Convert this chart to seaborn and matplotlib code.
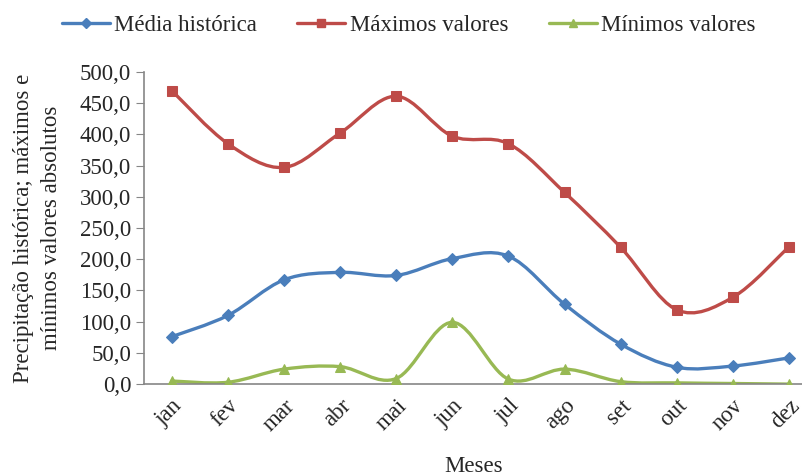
import matplotlib
matplotlib.use("Agg")
import matplotlib.pyplot as plt
import numpy as np
import seaborn as sns
from matplotlib.path import Path
from matplotlib.patches import PathPatch
from matplotlib.lines import Line2D
from matplotlib.ticker import FuncFormatter

# dados
meses = ['jan', 'fev', 'mar', 'abr', 'mai', 'jun', 'jul', 'ago', 'set', 'out', 'nov', 'dez']
media = [76, 110, 167, 179, 174, 201, 205, 128, 64, 27, 29, 42]
maximos = [470, 385, 347, 402, 461, 397, 385, 307, 219, 119, 139, 220]
minimos = [5, 3, 24, 28, 9, 99, 8, 24, 4, 2, 1, 0]

sns.set_style("white")
plt.rcParams['font.family'] = ['Liberation Serif', 'DejaVu Serif']
FS = 16.5


def smoothPath(ys):
    # curva suave estilo Excel (bezier tipo catmull-rom)
    xs = np.arange(len(ys), dtype=float)
    pts = np.column_stack([xs, np.asarray(ys, dtype=float)])
    ext = np.vstack([pts[0], pts, pts[-1]])
    verts = [pts[0]]
    codes = [Path.MOVETO]
    for i in range(len(pts) - 1):
        p0, p1, p2, p3 = ext[i], ext[i + 1], ext[i + 2], ext[i + 3]
        verts += [p1 + (p2 - p0) / 6, p2 - (p3 - p1) / 6, p2]
        codes += [Path.CURVE4] * 3
    return Path(verts, codes)


fig = plt.figure(figsize=(8.03, 4.76), dpi=100)
ax = fig.add_axes([0.179, 0.193, 0.821, 0.656])

series = [
    ('Média histórica', media, '#4A7EBB', 'D', 6),
    ('Máximos valores', maximos, '#BE4B48', 's', 7),
    ('Mínimos valores', minimos, '#98B954', '^', 7),
]

handles = []
for nome, vals, cor, mk, ms in series:
    ax.add_patch(PathPatch(smoothPath(vals), facecolor='none', edgecolor=cor,
                           lw=2.4, zorder=2, capstyle='round'))
    sns.lineplot(x=meses, y=vals, ax=ax, marker=mk, markersize=ms, color=cor,
                 linestyle='', markeredgecolor=cor, zorder=3, sort=False)
    handles.append(Line2D([], [], color=cor, lw=2.4, marker=mk, markersize=ms - 1,
                          markeredgecolor=cor, label=nome))

ax.set_ylim(0, 500)
ax.set_xlim(-0.5, 11.25)
ax.set_yticks(np.arange(0, 501, 50))
ax.yaxis.set_major_formatter(FuncFormatter(lambda v, p: f'{v:.1f}'.replace('.', ',')))

for s in ['top', 'right']:
    ax.spines[s].set_visible(False)
for s in ['left', 'bottom']:
    ax.spines[s].set_color('#868686')
    ax.spines[s].set_linewidth(1.2)

ax.tick_params(axis='y', direction='out', length=6, color='#868686', labelsize=FS, pad=3, left=True)
ax.tick_params(axis='x', length=0, labelsize=FS, pad=8)
plt.setp(ax.get_xticklabels(), rotation=45, ha='right', rotation_mode='anchor')

ax.set_xlabel('Meses', fontsize=FS, labelpad=15)
ax.set_ylabel('Precipitação histórica; máximos e\nmínimos valores absolutos', fontsize=FS,
              labelpad=13, linespacing=1.45)

fig.legend(handles=handles, loc='upper center', bbox_to_anchor=(0.509, 1.012), ncol=3,
           frameon=False, fontsize=FS, handlelength=2.1, columnspacing=1.75,
           handletextpad=0.2)

fig.savefig('out.png', dpi=100)
